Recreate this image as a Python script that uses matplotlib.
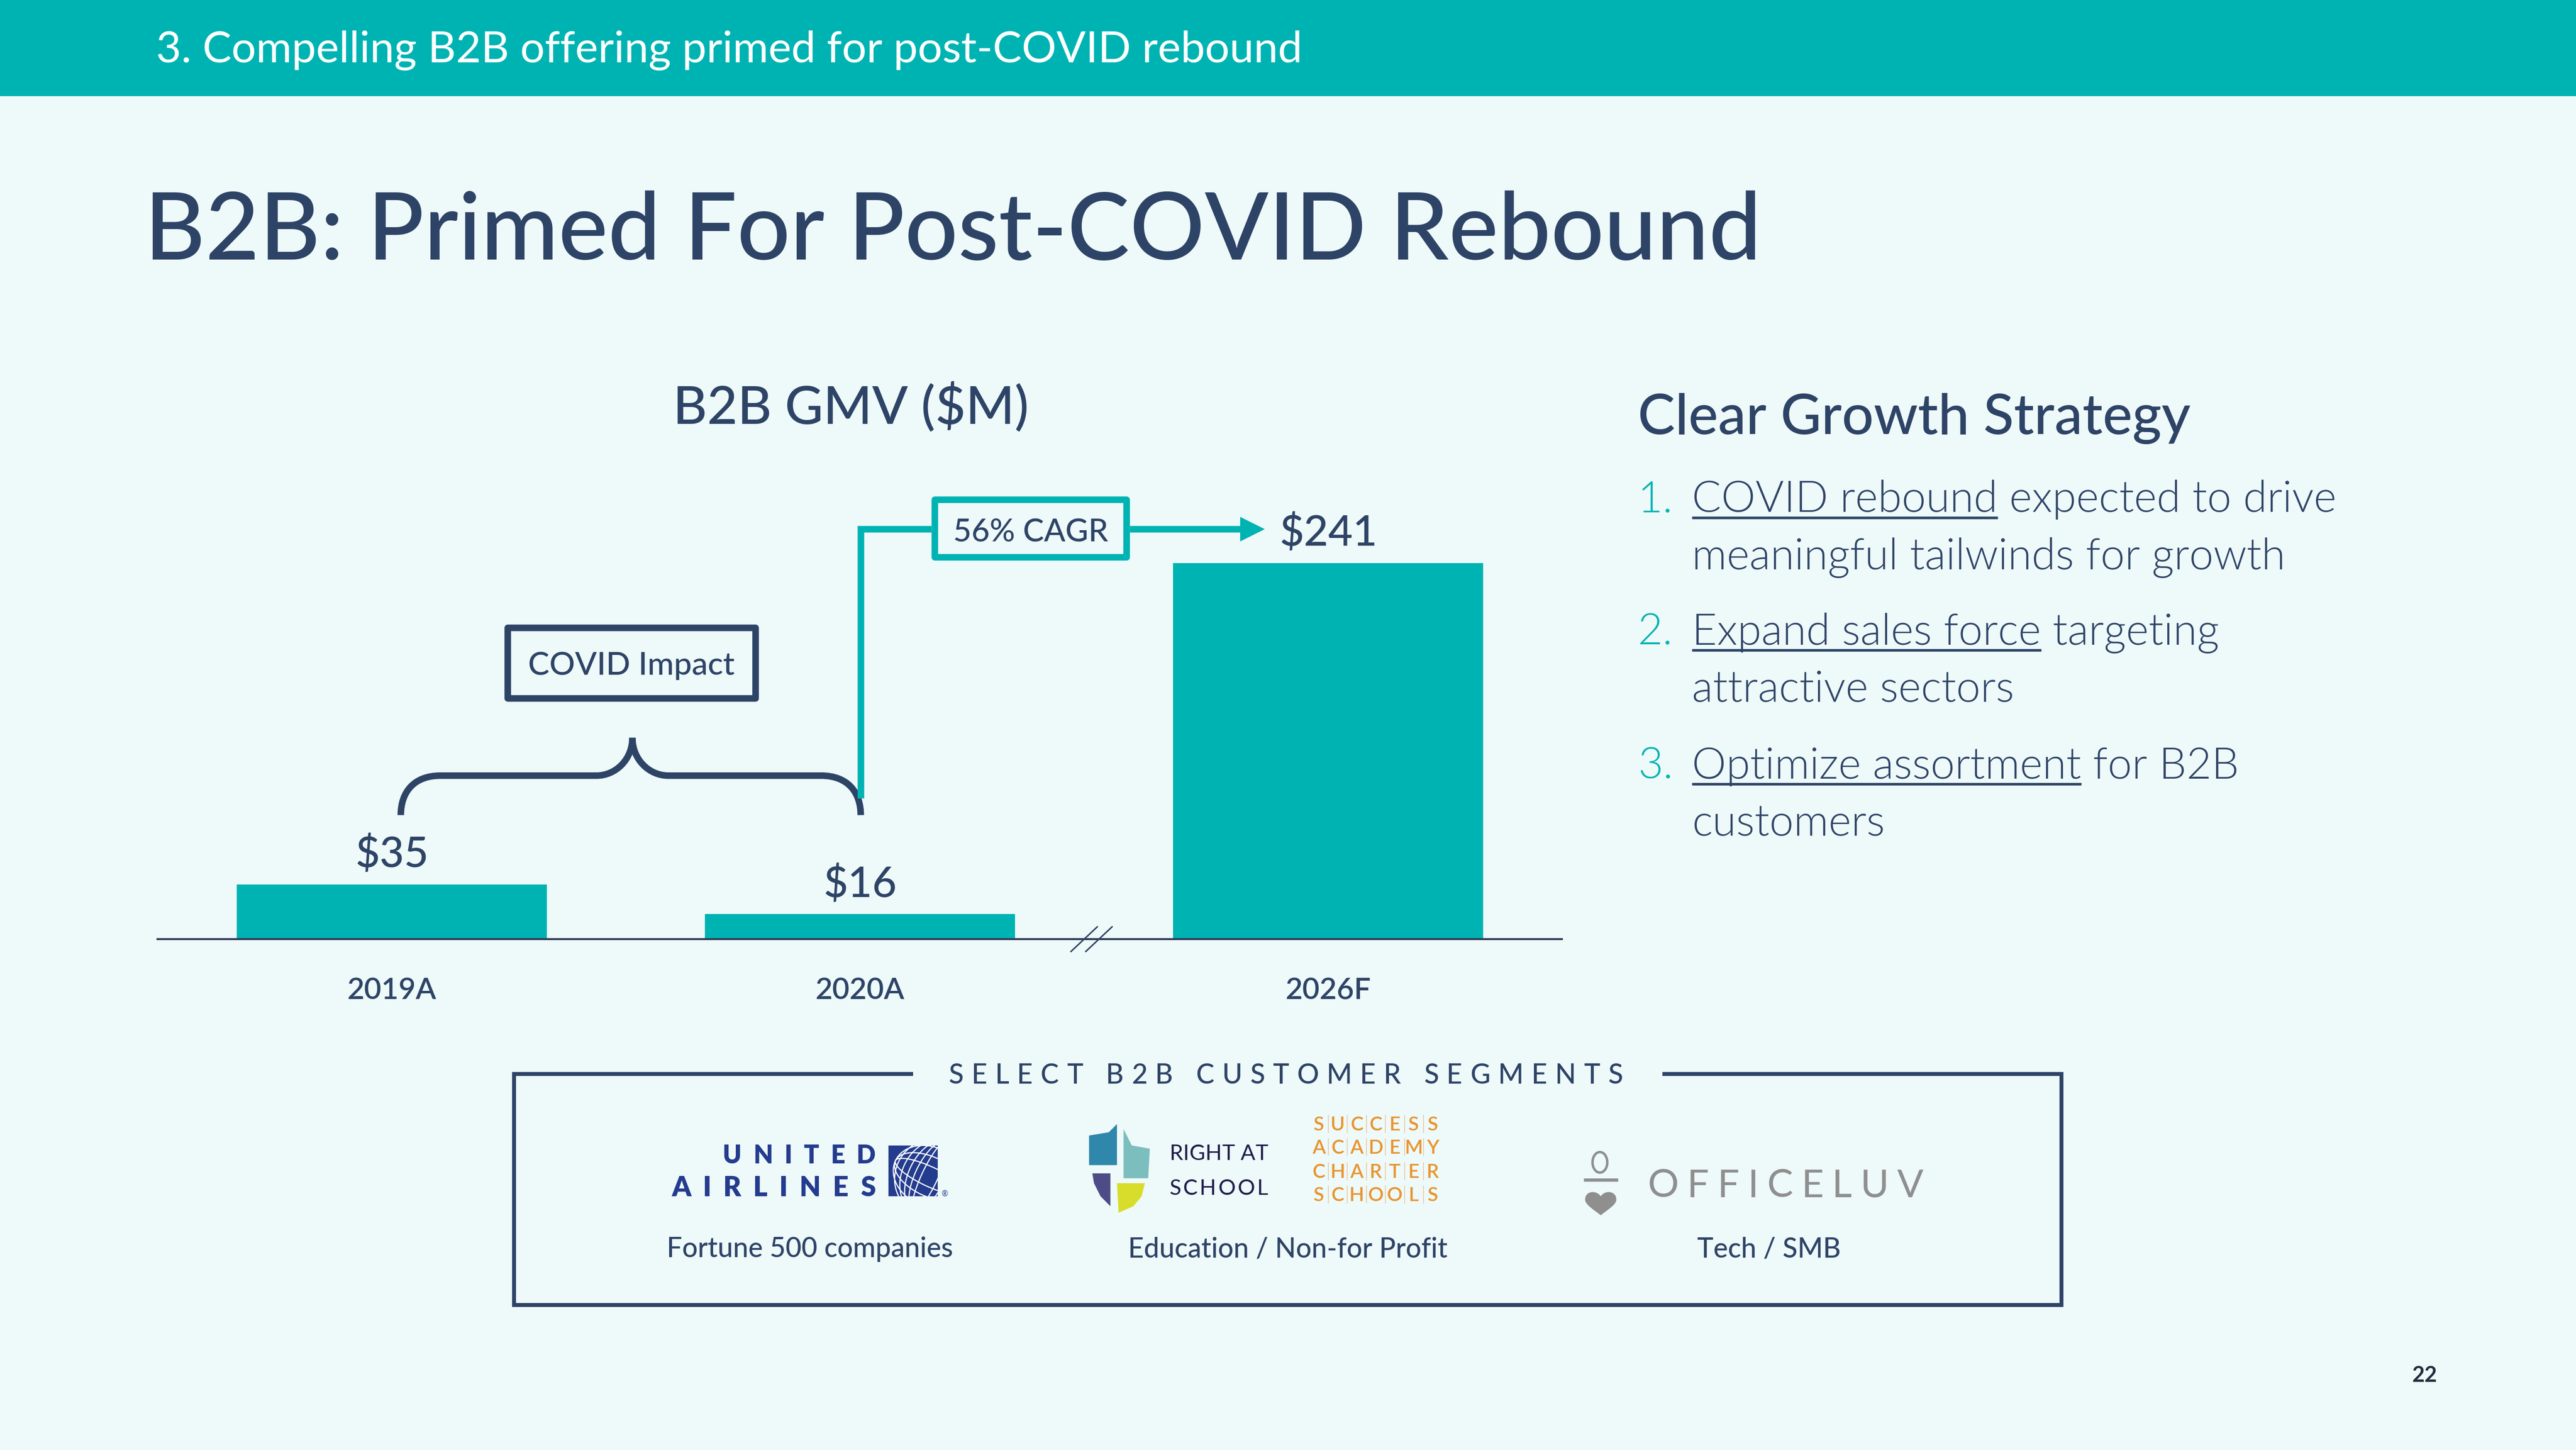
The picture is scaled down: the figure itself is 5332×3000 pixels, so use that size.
import matplotlib
matplotlib.use("Agg")
import matplotlib.pyplot as plt
from matplotlib.patches import Rectangle, Polygon, PathPatch, Ellipse
from matplotlib.path import Path

plt.rcParams["text.parse_math"] = False
plt.rcParams["font.family"] = ["Lato", "DejaVu Sans"]

# ---- data ----
years = ["2019A", "2020A", "2026F"]
gmv = [35, 16, 241]
gmv_text = ["$35", "$16", "$241"]
chart_title = "B2B GMV ($M)"
cagr_text = "56% CAGR"
impact_text = "COVID Impact"
strategy_title = "Clear Growth Strategy"
strategy = [
    ("COVID rebound", " expected to drive", "meaningful tailwinds for growth"),
    ("Expand sales force", " targeting", "attractive sectors"),
    ("Optimize assortment", " for B2B", "customers"),
]
segment_title = "SELECT B2B CUSTOMER SEGMENTS"
segment_labels = ["Fortune 500 companies", "Education / Non-for Profit", "Tech / SMB"]
success_rows = ["SUCCESS", "ACADEMY", "CHARTER", "SCHOOLS"]

BG = "#EEF9F9"
TEAL = "#00B3B3"
NAVY = "#2E4467"
LIGHT = 300

DPI = 340
S = DPI / 100          # device pixels per layout unit
W, H = 5332 / S, 3000 / S

fig = plt.figure(figsize=(5332 / DPI, 3000 / DPI), dpi=DPI, facecolor=BG)
R = fig.canvas.get_renderer()


def pt(v):
    # layout units -> points
    return v * 0.72


# ---- bar chart ----
ax = fig.add_axes([96 / W, (H - 571.5) / H, 855 / W, 271.5 / H])
ax.set_facecolor("none")
xs = list(range(len(years)))
ax.bar(xs, gmv, width=0.663, color=TEAL, zorder=2)
ax.set_xlim(-0.5, 2.5)
ax.set_ylim(0, 271.5 / (229 / 241))
for s in ["top", "right", "left"]:
    ax.spines[s].set_visible(False)
ax.spines["bottom"].set_color("#2B3A55")
ax.spines["bottom"].set_linewidth(pt(1.2))
ax.set_xticks([])
ax.set_yticks([])
for i, (v, lab) in enumerate(zip(gmv, gmv_text)):
    ax.annotate(lab, xy=(i, v), xytext=(0, pt(10.5)), textcoords="offset points",
                ha="center", va="baseline", fontsize=18.5, fontweight="medium", color=NAVY)
    ax.annotate(years[i], xy=(i, 0), xytext=(0, -pt(36.5)), textcoords="offset points",
                ha="center", va="baseline", fontsize=13, fontweight="semibold", color=NAVY)

# ---- overlay in layout units ----
ov = fig.add_axes([0, 0, 1, 1])
ov.set_xlim(0, W)
ov.set_ylim(H, 0)
ov.axis("off")


def txt(x, y, s, size, color=NAVY, weight="normal", ha="left", va="baseline", **kw):
    return ov.text(x, y, s, fontsize=size, color=color, fontweight=weight,
                   ha=ha, va=va, **kw)


def ink_width(s, size, weight="normal", **kw):
    t = txt(0, 0, s, size, weight=weight, **kw)
    w = t.get_window_extent(R).width / S
    t.remove()
    return w


def spaced(x0, x1, y, s, size, color, weight="normal", **kw):
    ws = []
    for ch in s:
        if ch == " ":
            ws.append(size / 0.72 * 0.26)
        else:
            ws.append(ink_width(ch, size, weight, **kw))
    gap = (x1 - x0 - sum(ws)) / (len(s) - 1)
    x = x0
    for ch, w in zip(s, ws):
        if ch != " ":
            txt(x, y, ch, size, color, weight, **kw)
        x += w + gap


# header band
ov.add_patch(Rectangle((0, 0), W, 58.6, color=TEAL, lw=0))
txt(95, 38, "3. Compelling B2B offering primed for post-COVID rebound", 19, "white")

# title
txt(88, 158, "B2B: Primed For Post-COVID Rebound", 41, NAVY, "medium")

# chart title
txt(518, 258, chart_title, 23, NAVY, "medium", ha="center")

# break marks on axis
for dx in (0, 9):
    ov.plot([652 + dx, 668 + dx], [579, 564], color=NAVY, lw=pt(0.9))

# brace for COVID impact
brace = Path(
    [(244, 496), (244, 482), (252, 472), (268, 472),
     (363, 472),
     (375, 472), (385, 462), (385, 449),
     (385, 462), (395, 472), (407, 472),
     (500, 472),
     (516, 472), (524, 482), (524, 496)],
    [Path.MOVETO, Path.CURVE4, Path.CURVE4, Path.CURVE4,
     Path.LINETO,
     Path.CURVE4, Path.CURVE4, Path.CURVE4,
     Path.CURVE4, Path.CURVE4, Path.CURVE4,
     Path.LINETO,
     Path.CURVE4, Path.CURVE4, Path.CURVE4])
ov.add_patch(PathPatch(brace, fill=False, ec=NAVY, lw=pt(4), capstyle="butt"))

# COVID impact box
ov.add_patch(Rectangle((309, 382), 151, 43, fill=False, ec=NAVY, lw=pt(4), joinstyle="round"))
txt(384.5, 410.6, impact_text, 14, NAVY, "medium", ha="center")

# CAGR connector and box
ov.plot([524, 524, 567], [486, 322, 322], color=TEAL, lw=pt(4),
        solid_joinstyle="miter", solid_capstyle="butt")
ov.plot([688, 757], [322, 322], color=TEAL, lw=pt(4), solid_capstyle="butt")
ov.add_patch(Polygon([(755, 314.5), (770, 322), (755, 329.5)], closed=True, color=TEAL, lw=0))
ov.add_patch(Rectangle((569, 304), 117, 35, fill=False, ec=TEAL, lw=pt(4), joinstyle="round"))
txt(627.5, 329.6, cagr_text, 13.8, NAVY, "medium", ha="center")

# strategy
txt(997, 264, strategy_title, 24.5, NAVY, "medium")
base = [311.6, 392.3, 473.8]
for i, (ul, rest, line2) in enumerate(strategy):
    y = base[i]
    txt(997, y, f"{i + 1}.", 19, TEAL, LIGHT)
    txt(1030, y, ul + rest, 19, NAVY, LIGHT)
    w = ink_width(ul, 19, LIGHT)
    ov.plot([1030, 1030 + w], [y + 3.3, y + 3.3], color=NAVY, lw=pt(1.6),
            solid_capstyle="butt")
    txt(1030, y + 35, line2, 19, NAVY, LIGHT)

# customer segment frame
ov.plot([556, 313, 313, 1255, 1255, 1012], [653.5, 653.5, 794, 794, 653.5, 653.5],
        color=NAVY, lw=pt(2.4), solid_joinstyle="miter", solid_capstyle="butt")
spaced(577.5, 988, 659.3, segment_title, 12, NAVY, "medium")

# United Airlines logo
UA = "#233C8E"
spaced(440, 533, 708, "UNITED", 11, UA, "heavy")
spaced(409, 533, 728, "AIRLINES", 12, UA, "heavy")
sq = Rectangle((541, 697), 30, 31, color=UA, lw=0)
ov.add_patch(sq)
for wd in [10, 18, 26, 34, 42]:
    e = Ellipse((566, 716), wd, 46, angle=25, fill=False, ec="white", lw=pt(0.7))
    ov.add_patch(e)
    e.set_clip_path(sq)
for hd in [12, 24, 36]:
    e = Ellipse((566, 716), 46, hd, angle=25, fill=False, ec="white", lw=pt(0.7))
    ov.add_patch(e)
    e.set_clip_path(sq)
txt(573, 728, "®", 3.5, UA)

# Right At School logo
ov.add_patch(Polygon([(663, 691), (675, 689), (680, 684), (680, 709), (663, 709)], color="#2F87AB", lw=0))
ov.add_patch(Polygon([(684, 687), (689, 697), (700, 699), (699, 717), (684, 717)], color="#7CBEBE", lw=0))
ov.add_patch(Polygon([(665, 714), (676, 714), (676, 734), (670, 728), (666, 720)], color="#4E4C86", lw=0))
ov.add_patch(Polygon([(680, 720), (697, 720), (695, 728), (690, 734), (681, 738)], color="#D8DD2C", lw=0))
spaced(712, 772, 706, "RIGHT AT", 9.5, "#1F1D4A")
spaced(712, 772, 727, "SCHOOL", 9.5, "#1F1D4A")

# Success Academy grid
cw = (878 - 797) / 7
for row, yb in zip(success_rows, [688, 702, 716.8, 731]):
    for c, ch in enumerate(row):
        txt(797 + cw * (c + 0.5), yb, ch, 8.5, "#E8952F", "semibold", ha="center")
    for c in range(1, 7):
        ov.plot([797 + cw * c] * 2, [yb - 9.5, yb + 1], color="#E9B580", lw=pt(0.35))

# OfficeLuv logo
GRAY = "#8F8F8F"
ov.add_patch(Ellipse((974, 707.3), 9, 12.5, fill=False, ec=GRAY, lw=pt(1.5)))
ov.plot([964, 985], [718, 718], color=GRAY, lw=pt(2), solid_capstyle="butt")
heart = Path(
    [(974.5, 728), (972, 724), (965, 724.5), (965, 730),
     (965, 733), (970, 736), (974.5, 739.5),
     (979, 736), (984, 733), (984, 730),
     (984, 724.5), (977, 724), (974.5, 728), (974.5, 728)],
    [Path.MOVETO, Path.CURVE4, Path.CURVE4, Path.CURVE4,
     Path.CURVE4, Path.CURVE4, Path.CURVE4,
     Path.CURVE4, Path.CURVE4, Path.CURVE4,
     Path.CURVE4, Path.CURVE4, Path.CURVE4, Path.CLOSEPOLY])
ov.add_patch(PathPatch(heart, color=GRAY, lw=0))
spaced(1003, 1171, 728.5, "OFFICELUV", 17, GRAY, "normal")

# segment captions
for cx, lab in zip([493, 784, 1077], segment_labels):
    txt(cx, 765, lab, 12, NAVY, "medium", ha="center")

# page number
txt(1476, 841, "22", 9.5, "#1F2D3D", "bold", ha="center")

fig.savefig("out.png", dpi=DPI, facecolor=BG)
